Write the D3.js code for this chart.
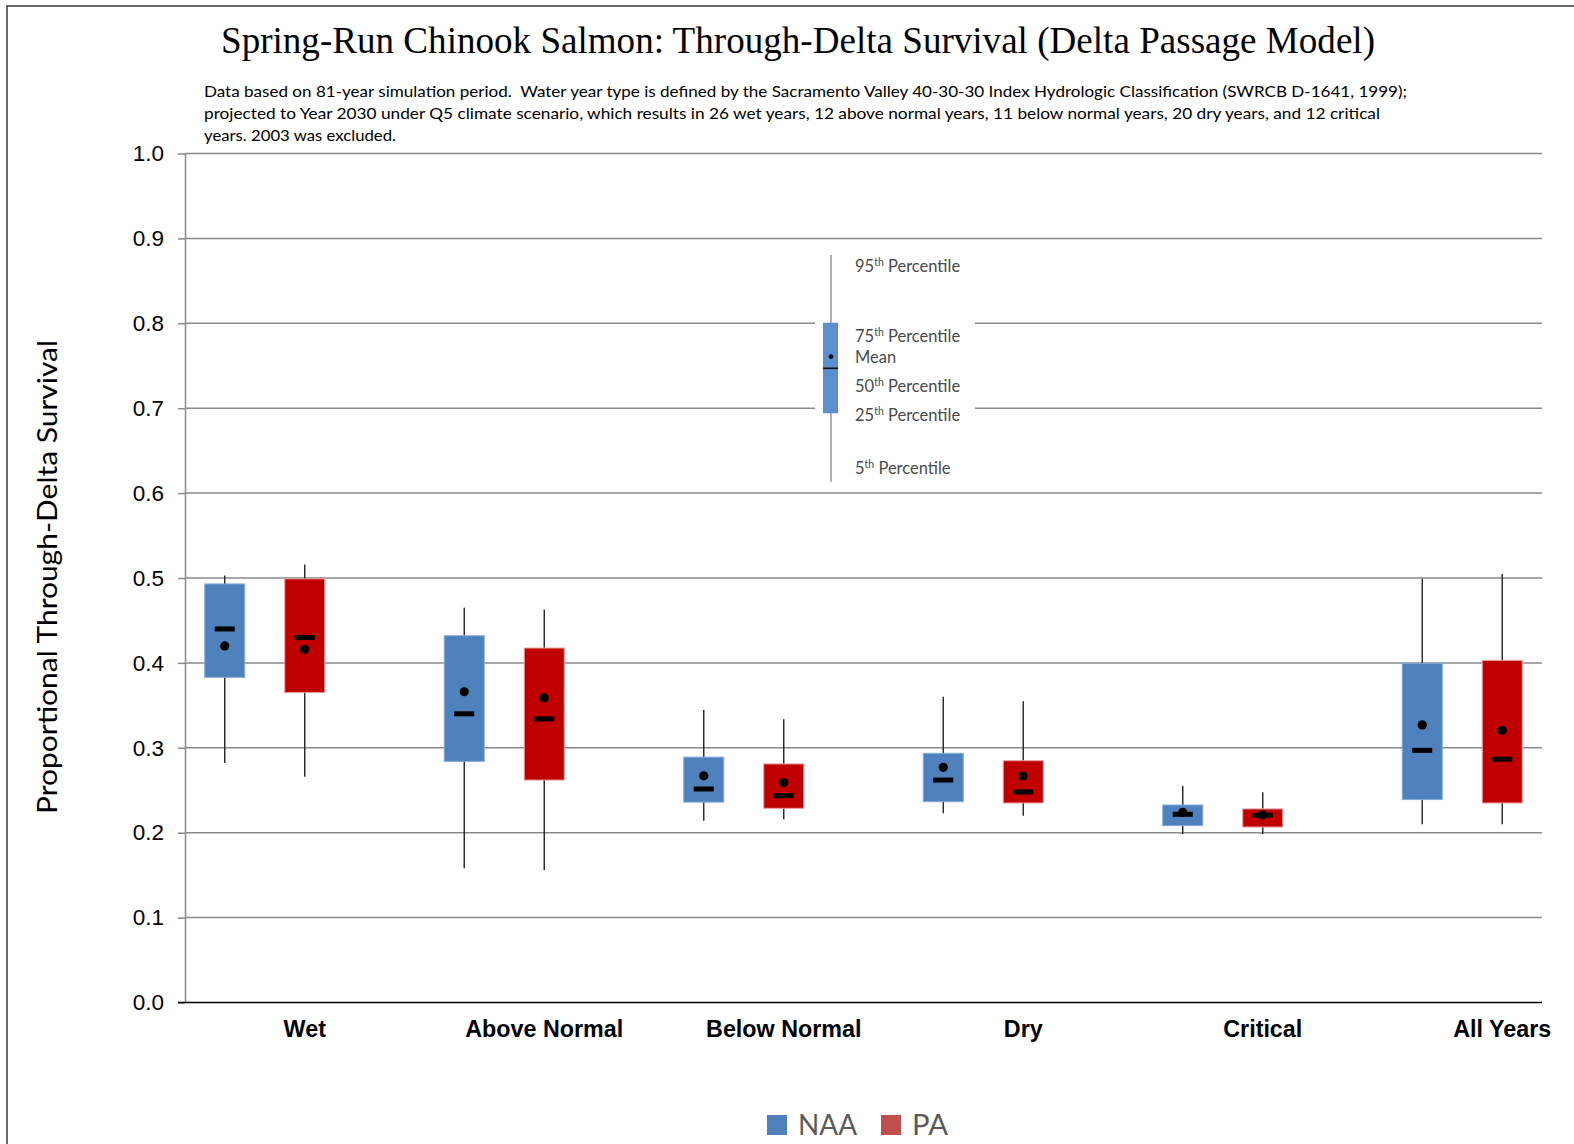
<!DOCTYPE html>
<html>
<head>
<meta charset="utf-8">
<script src="https://cdn.jsdelivr.net/npm/d3@7"></script>
<style>
  body { margin: 0; background: #fff; }
  .tick text { font-family: "Liberation Sans", Arial, sans-serif; }
  .sub { white-space: pre; }
</style>
</head>
<body>
<div class="chart"></div>
<script>
// categories and series
const categories = ["Wet", "Above Normal", "Below Normal", "Dry", "Critical", "All Years"];
const seriesNames = ["NAA", "PA"];

// NAA percentiles / mean per category
const naaP5   = [0.282, 0.158, 0.214, 0.223, 0.1985, 0.210];
const naaP25  = [0.383, 0.284, 0.236, 0.2365, 0.2083, 0.239];
const naaP50  = [0.440, 0.340, 0.2515, 0.262, 0.2217, 0.297];
const naaMean = [0.420, 0.366, 0.267, 0.277, 0.224, 0.327];
const naaP75  = [0.493, 0.432, 0.289, 0.2935, 0.2326, 0.3995];
const naaP95  = [0.503, 0.465, 0.3445, 0.360, 0.2554, 0.499];

// PA percentiles / mean per category
const paP5   = [0.266, 0.156, 0.2158, 0.220, 0.1985, 0.210];
const paP25  = [0.365, 0.262, 0.2287, 0.235, 0.2067, 0.235];
const paP50  = [0.430, 0.334, 0.2436, 0.248, 0.2205, 0.2865];
const paMean = [0.416, 0.3587, 0.259, 0.2668, 0.221, 0.3206];
const paP75  = [0.499, 0.4175, 0.281, 0.2848, 0.228, 0.403];
const paP95  = [0.516, 0.463, 0.3336, 0.3548, 0.2476, 0.5047];

// the little key drawn inside the plot (values on the y scale)
const keyStats = { p5: 0.6134, p25: 0.694, p50: 0.747, mean: 0.7607, p75: 0.8007, p95: 0.8805 };
const keyLabels = ["95", "75", "Mean", "50", "25", "5"];

const yTicks = d3.range(0, 11).map(d => d / 10);

const subtitle = [
    "Data based on 81-year simulation period.  Water year type is defined by the Sacramento Valley 40-30-30 Index Hydrologic Classification (SWRCB D-1641, 1999);",
    "projected to Year 2030 under Q5 climate scenario, which results in 26 wet years, 12 above normal years, 11 below normal years, 20 dry years, and 12 critical",
    "years. 2003 was excluded."
];

function drawChart() {
    const w = 1574;
    const h = 1144;
    const left = 185, right = 1542, top = 153.5, bottom = 1002.5;

    let color = d3.scaleOrdinal().domain(seriesNames).range(["#4F81BD", "#C00000"]);
    let legendColor = d3.scaleOrdinal().domain(seriesNames).range(["#4F81BD", "#C0504D"]);
    let strokeColor = d3.scaleOrdinal().domain(seriesNames).range(["#86a9d8", "#e7a0a0"]);

    const svg = d3.select('.chart')
        .append('svg')
        .attr('width', w)
        .attr('height', h);

    // frame lines (top and left only)
    svg.append('path')
        .attr('d', `M7,${h} V6 H${w}`)
        .attr('fill', 'none')
        .attr('stroke', '#3a3a3a')
        .attr('stroke-width', 1.5);

    const yScale = d3.scaleLinear().domain([0, 1]).range([bottom, top]);
    const xScale = d3.scaleBand().domain(categories).range([left, left + 6 * 239.5]);
    const boxW = 40;
    const offset = { NAA: -80, PA: 0 };

    // title + subtitle
    svg.append('text')
        .attr('x', 798)
        .attr('y', 53)
        .attr('text-anchor', 'middle')
        .attr('textLength', 1154)
        .attr('lengthAdjust', 'spacingAndGlyphs')
        .style('font-family', '"Liberation Serif", "Times New Roman", serif')
        .style('font-size', '37px')
        .text('Spring-Run Chinook Salmon: Through-Delta Survival (Delta Passage Model)');

    const subLens = [1203, 1176, 192];
    svg.selectAll('.sub')
        .data(subtitle)
        .enter().append('text')
        .attr('class', 'sub')
        .attr('x', 204)
        .attr('y', (d, i) => 97 + i * 22)
        .attr('textLength', (d, i) => subLens[i])
        .attr('lengthAdjust', 'spacingAndGlyphs')
        .style('font-family', 'Lato, "Open Sans", sans-serif')
        .style('font-size', '16px')
        .style('fill', '#000')
        .text(d => d);

    // gridlines
    svg.append('g')
        .selectAll('line')
        .data(yTicks.filter(d => d > 0))
        .enter().append('line')
        .attr('x1', left)
        .attr('x2', right)
        .attr('y1', d => yScale(d))
        .attr('y2', d => yScale(d))
        .attr('stroke', '#8a8a8a')
        .attr('stroke-width', 1.5);

    // y axis
    const y = d3.axisLeft(yScale)
        .tickValues(yTicks)
        .tickFormat(d3.format('.1f'))
        .tickSize(7)
        .tickSizeOuter(0)
        .tickPadding(14);

    const yAxis = svg.append('g')
        .attr('transform', `translate(${left}, 0)`)
        .call(y);
    yAxis.select('.domain').attr('stroke', '#8a8a8a').attr('stroke-width', 1.5);
    yAxis.selectAll('.tick line').attr('stroke', '#8a8a8a').attr('stroke-width', 1.5);
    yAxis.selectAll('.tick text').style('font-size', '22.5px').style('fill', '#000');

    // baseline
    svg.append('line')
        .attr('x1', left - 7)
        .attr('x2', right)
        .attr('y1', yScale(0))
        .attr('y2', yScale(0))
        .attr('stroke', '#000')
        .attr('stroke-width', 1.5);

    // x axis labels
    const x = d3.axisBottom(xScale).tickSize(0).tickPadding(18);
    const xAxis = svg.append('g')
        .attr('transform', `translate(0, ${bottom})`)
        .call(x);
    xAxis.select('.domain').remove();
    xAxis.selectAll('.tick text')
        .style('font-size', '23.3px')
        .style('font-weight', 'bold')
        .style('fill', '#000');

    // boxes
    const boxes = [];
    categories.forEach((c, i) => {
        boxes.push({ cat: c, s: 'NAA', p5: naaP5[i], p25: naaP25[i], p50: naaP50[i], mean: naaMean[i], p75: naaP75[i], p95: naaP95[i] });
        boxes.push({ cat: c, s: 'PA', p5: paP5[i], p25: paP25[i], p50: paP50[i], mean: paMean[i], p75: paP75[i], p95: paP95[i] });
    });
    const cx = d => xScale(d.cat) + xScale.bandwidth() / 2 + offset[d.s];

    const g = svg.append('g')
        .selectAll('.box')
        .data(boxes)
        .enter().append('g')
        .attr('class', 'box');

    g.append('line')
        .attr('x1', cx)
        .attr('x2', cx)
        .attr('y1', d => yScale(d.p95))
        .attr('y2', d => yScale(d.p5))
        .attr('stroke', '#222')
        .attr('stroke-width', 1.4);

    g.append('rect')
        .attr('x', d => cx(d) - boxW / 2)
        .attr('y', d => yScale(d.p75))
        .attr('width', boxW)
        .attr('height', d => yScale(d.p25) - yScale(d.p75))
        .style('fill', d => color(d.s))
        .attr('stroke', d => strokeColor(d.s))
        .attr('stroke-width', 1);

    g.append('rect')
        .attr('x', d => cx(d) - 10)
        .attr('y', d => yScale(d.p50) - 2.5)
        .attr('width', 20)
        .attr('height', 5)
        .style('fill', '#000');

    g.append('circle')
        .attr('cx', cx)
        .attr('cy', d => yScale(d.mean))
        .attr('r', 4.6)
        .style('fill', '#000');

    // key inside the plot
    const key = svg.append('g');
    key.append('rect')
        .attr('x', 815)
        .attr('y', 247)
        .attr('width', 160)
        .attr('height', 242)
        .style('fill', '#fff');
    const kx = 831;
    key.append('line')
        .attr('x1', kx).attr('x2', kx)
        .attr('y1', yScale(keyStats.p95))
        .attr('y2', yScale(keyStats.p5))
        .attr('stroke', '#8c8c8c')
        .attr('stroke-width', 1.4);
    key.append('rect')
        .attr('x', kx - 8)
        .attr('y', yScale(keyStats.p75))
        .attr('width', 15)
        .attr('height', yScale(keyStats.p25) - yScale(keyStats.p75))
        .style('fill', '#5b8fd0');
    key.append('line')
        .attr('x1', kx - 8).attr('x2', kx + 7)
        .attr('y1', yScale(keyStats.p50))
        .attr('y2', yScale(keyStats.p50))
        .attr('stroke', '#111')
        .attr('stroke-width', 1.6);
    key.append('circle')
        .attr('cx', kx)
        .attr('cy', yScale(keyStats.mean))
        .attr('r', 2.4)
        .style('fill', '#111');

    const labelY = [272, 342, 363, 392, 421, 474];
    const kt = key.selectAll('.key-label')
        .data(keyLabels)
        .enter().append('text')
        .attr('class', 'key-label')
        .attr('x', 855)
        .attr('y', (d, i) => labelY[i])
        .style('font-family', 'Lato, "Open Sans", sans-serif')
        .style('font-size', '16.5px')
        .style('fill', '#4a4a4a');
    kt.each(function (d) {
        const t = d3.select(this);
        if (d === 'Mean') { t.text('Mean'); return; }
        t.append('tspan').text(d);
        t.append('tspan').attr('dy', -6).style('font-size', '10.5px').text('th');
        t.append('tspan').attr('dy', 6).text(' Percentile');
    });

    // y axis label
    svg.append('text')
        .attr('transform', 'translate(57, 577) rotate(-90)')
        .attr('text-anchor', 'middle')
        .attr('textLength', 474)
        .attr('lengthAdjust', 'spacingAndGlyphs')
        .style('font-family', 'Lato, "Open Sans", sans-serif')
        .style('font-size', '27px')
        .style('fill', '#000')
        .text('Proportional Through-Delta Survival');

    // legend
    const legendX = { NAA: 767, PA: 881 };
    const legendLen = { NAA: 59, PA: 36 };
    const legend = svg.append('g')
        .attr('id', 'legend')
        .selectAll('.legend-label')
        .data(seriesNames)
        .enter().append('g')
        .attr('class', 'legend-label');

    legend.append('rect')
        .attr('x', d => legendX[d])
        .attr('y', 1115)
        .attr('width', 20)
        .attr('height', 20)
        .style('fill', d => legendColor(d));

    legend.append('text')
        .attr('x', d => legendX[d] + 31)
        .attr('y', 1135)
        .attr('textLength', d => legendLen[d])
        .attr('lengthAdjust', 'spacingAndGlyphs')
        .style('font-family', 'Lato, "Open Sans", sans-serif')
        .style('font-size', '28px')
        .style('fill', '#595959')
        .text(d => d);
}

drawChart();
</script>
</body>
</html>
